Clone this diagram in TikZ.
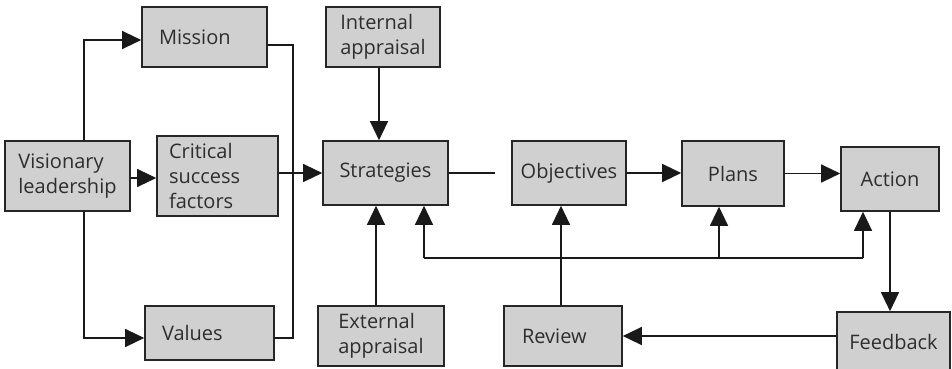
\documentclass[tikz,border=0pt]{standalone}
\usepackage{fontspec}
\setmainfont{Open Sans}
\usetikzlibrary{arrows.meta}
\definecolor{boxgray}{HTML}{D0D0D0}
\definecolor{ink}{HTML}{2E2E2E}

\begin{document}
\begin{tikzpicture}[x=1pt,y=-1pt,
  blk/.style={draw=black!85, line width=1.6pt, fill=boxgray, text=ink, align=left,
    font=\fontsize{20}{25}\selectfont},
  tip/.style={-{Triangle[length=19pt,width=18pt]}},
  line/.style={line width=1.2pt, black!90}]
\useasboundingbox (0,0) rectangle (952,369);
\node [blk, minimum width=125, minimum height=70] (vis) at (67.5,176) {Visionary\\leadership};
\node [blk, minimum width=125, minimum height=60, text width=91] (mis) at (204.5,37) {Mission};
\node [blk, minimum width=121, minimum height=80, text width=97] (crit) at (217.5,176) {Critical\\success\\factors};
\node [blk, minimum width=129, minimum height=54, text width=95] (val) at (209.5,333) {Values};
\node [blk, minimum width=114, minimum height=60] (intl) at (383,37) {Internal\\appraisal};
\node [blk, minimum width=125, minimum height=64] (strat) at (385.5,173) {Strategies};
\node [blk, minimum width=126, minimum height=60] (extl) at (381,336) {External\\appraisal};
\node [blk, minimum width=114, minimum height=64] (obj) at (569,173) {Objectives};
\node [blk, minimum width=118, minimum height=60, text width=82] (rev) at (563,336) {Review};
\node [blk, minimum width=102, minimum height=65] (plans) at (733,173.5) {Plans};
\node [blk, minimum width=98, minimum height=64] (act) at (890,179) {Action};
\node [blk, minimum width=113, minimum height=60] (fb) at (893.5,342) {Feedback};
\coordinate (bus) at (293,173);
\coordinate (gap) at (495,173);
\coordinate (loopL) at (424,258);
\coordinate (loopR) at (863,258);
\draw [line, tip] ([xshift=16.5pt]vis.north) |- ([yshift=-3pt]mis.west);
\draw [line, tip] ([xshift=16.5pt]vis.south) |- ([yshift=-5pt]val.west);
\draw [line, tip] ([yshift=-2pt]vis.east) -- ([yshift=-2pt]vis.east -| crit.west);
\draw [line] ([yshift=-8pt]mis.east) -| (bus) |- ([yshift=-5pt]val.east);
\draw [line, tip] (crit.east |- strat.west) -- (strat.west);
\draw [line, tip] ([xshift=-4pt]intl.south) -- ([xshift=-4pt]intl.south |- strat.north);
\draw [line, tip] ([xshift=-5pt]extl.north) -- ([xshift=-5pt]extl.north |- strat.south);
\draw [line] (strat.east) -- (gap);
\draw [line, tip] (obj.east) -- (obj.east -| plans.west);
\draw [line, tip] (plans.east) -- (plans.east -| act.west);
\draw [line, tip] (act.south) -- (act.south |- fb.north);
\draw [line, tip] (fb.west |- rev.east) -- (rev.east);
\draw [line, tip] ([xshift=-2pt]rev.north) -- ([xshift=-2pt]rev.north |- obj.south);
\draw [line] (loopL) -- (loopR);
\draw [line, tip] (loopL) -- (loopL |- strat.south);
\draw [line, tip] ([xshift=-14pt]plans.south |- loopL) -- ([xshift=-14pt]plans.south);
\draw [line, tip] (loopR) -- (loopR |- act.south);
\end{tikzpicture}
\end{document}
